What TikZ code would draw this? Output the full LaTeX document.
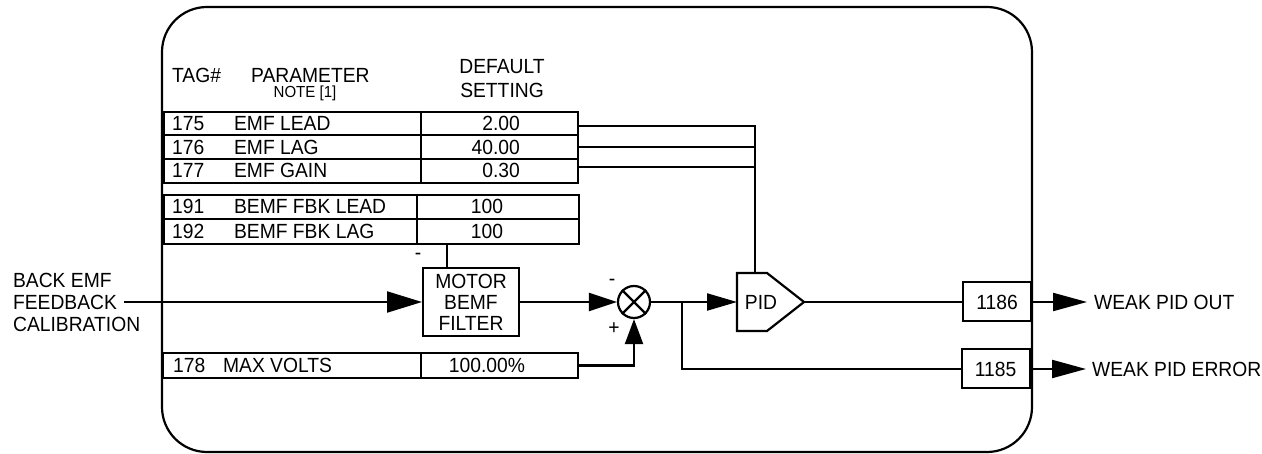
\documentclass[tikz,border=0pt]{standalone}
\usepackage{fontspec}
\setmainfont{Liberation Sans}[FakeStretch=0.94]
\usetikzlibrary{arrows.meta}
\begin{document}
\begin{tikzpicture}[x=1pt,y=-1pt,line width=2.2pt,
  txt/.style={font=\fontsize{20.5}{22}\selectfont, inner sep=0pt},
  small/.style={font=\fontsize{16}{18}\selectfont, inner sep=0pt},
  cell/.style={draw, line width=2pt, inner sep=0pt, anchor=north west},
  tagbox/.style={draw, line width=2pt, inner sep=0pt, minimum height=39pt, minimum width=68pt, font=\fontsize{20.5}{22}\selectfont},
  bigtip/.style={-{Triangle[length=35pt,width=21pt]}},
  midtip/.style={-{Triangle[length=28pt,width=18pt]}},
  outtip/.style={-{Triangle[length=34pt,width=18pt]}}
]
\useasboundingbox (0,0) rectangle (1262,454);
% frame
\draw[rounded corners=45pt] (162,7) rectangle (1032,452);

% header
\node[txt, anchor=west] (htag) at (171,75) {TAG\#};
\node[txt, anchor=west] (hpar) at (250,75) {PARAMETER};
\node[small] (hnote) at (305,93) {NOTE [1]};
\node[txt] (hdef) at (502,67) {DEFAULT};
\node[txt] (hset) at (502,90) {SETTING};

% table 1
\node[cell, minimum width=414pt, minimum height=23.5pt] (r175) at (163,111) {};
\node[cell, minimum width=414pt, minimum height=23.5pt] (r176) at (163,134.5) {};
\node[cell, minimum width=414pt, minimum height=24pt] (r177) at (163,158) {};
\draw[line width=2pt] (421,111) -- (421,182);
\node[txt, anchor=west] (t175) at (171,123.5) {175};
\node[txt, anchor=west] (p175) at (233,123.5) {EMF LEAD};
\node[txt, anchor=east] (v175) at (521,123.5) {2.00};
\node[txt, anchor=west] (t176) at (171,147) {176};
\node[txt, anchor=west] (p176) at (233,147) {EMF LAG};
\node[txt, anchor=east] (v176) at (521,147) {40.00};
\node[txt, anchor=west] (t177) at (171,170.5) {177};
\node[txt, anchor=west] (p177) at (233,170.5) {EMF GAIN};
\node[txt, anchor=east] (v177) at (521,170.5) {0.30};

% table 2
\node[cell, minimum width=415pt, minimum height=24.5pt] (r191) at (163,194) {};
\node[cell, minimum width=415pt, minimum height=24.5pt] (r192) at (163,218.5) {};
\draw[line width=2pt] (417,194) -- (417,243);
\node[txt, anchor=west] (t191) at (171,206.5) {191};
\node[txt, anchor=west] (p191) at (233,206.5) {BEMF FBK LEAD};
\node[txt] (v191) at (487,206.5) {100};
\node[txt, anchor=west] (t192) at (171,231) {192};
\node[txt, anchor=west] (p192) at (233,231) {BEMF FBK LAG};
\node[txt] (v192) at (487,231) {100};

% table 3
\node[cell, minimum width=415pt, minimum height=25pt] (r178) at (162,352) {};
\draw[line width=2pt] (421,352) -- (421,377);
\node[txt, anchor=west] (t178) at (172,365) {178};
\node[txt, anchor=west] (p178) at (222,365) {MAX VOLTS};
\node[txt] (v178) at (487,365) {100.00\%};

% input label
\node[txt, align=left, anchor=west, font=\fontsize{20.5}{22}\selectfont] (inlab) at (12,302) {BACK EMF\\FEEDBACK\\CALIBRATION};
\coordinate (fbk) at (124,302);

% motor filter
\node[draw, line width=2pt, minimum width=96pt, minimum height=68pt, inner sep=0pt, align=center, font=\fontsize{20.5}{21}\selectfont] (motor) at (471,302) {MOTOR\\BEMF\\FILTER};
\node[txt] (mneg) at (418,256) {-};

% summing junction
\node[draw, circle, minimum size=32pt, inner sep=0pt] (sum) at (634,302) {};
\draw (sum.north west) -- (sum.south east) (sum.north east) -- (sum.south west);
\node[txt] (sneg) at (612,282) {-};
\node[txt] (spos) at (614,329) {+};

% PID
\draw (737,273) -- (767,273) -- (804,302) -- (767,331) -- (737,331) -- cycle;
\node[txt] (pid) at (761,302) {PID};
\coordinate (pidW) at (737,302);
\coordinate (pidE) at (804,302);
\coordinate (pidT) at (755,273);
\coordinate (branch) at (682,302);

% output tag boxes
\node[tagbox] (b1186) at (997,302) {1186};
\node[tagbox] (b1185) at (995.5,369) {1185};
\node[txt, anchor=west] (lout) at (1093,302) {WEAK PID OUT};
\node[txt, anchor=west] (lerr) at (1091,369) {WEAK PID ERROR};

% connectors
\draw ([yshift=-2pt]r175.east) -| (pidT);
\draw (r176.east) -- (r176.east -| pidT);
\draw ([yshift=4pt]r177.east) -- ([yshift=4pt]r177.east -| pidT);
\draw ([xshift=-24pt]motor.north) -- ([xshift=-24pt]motor.north |- r192.south);
\draw[bigtip] (fbk) -- (motor.west);
\draw[midtip] (motor.east) -- (sum.west);
\draw[-{Triangle[length=25pt,width=18pt]}] (r178.east) -| (sum.south);
\draw[-{Triangle[length=30pt,width=17pt]}] (sum.east) -- (pidW);
\draw (branch) |- (b1185.west);
\draw (pidE) -- (b1186.west);
\draw[outtip] (b1186.east) -- ([xshift=-6pt]lout.west);
\draw[outtip] (b1185.east) -- ([xshift=-5pt]lerr.west);
\end{tikzpicture}
\end{document}
